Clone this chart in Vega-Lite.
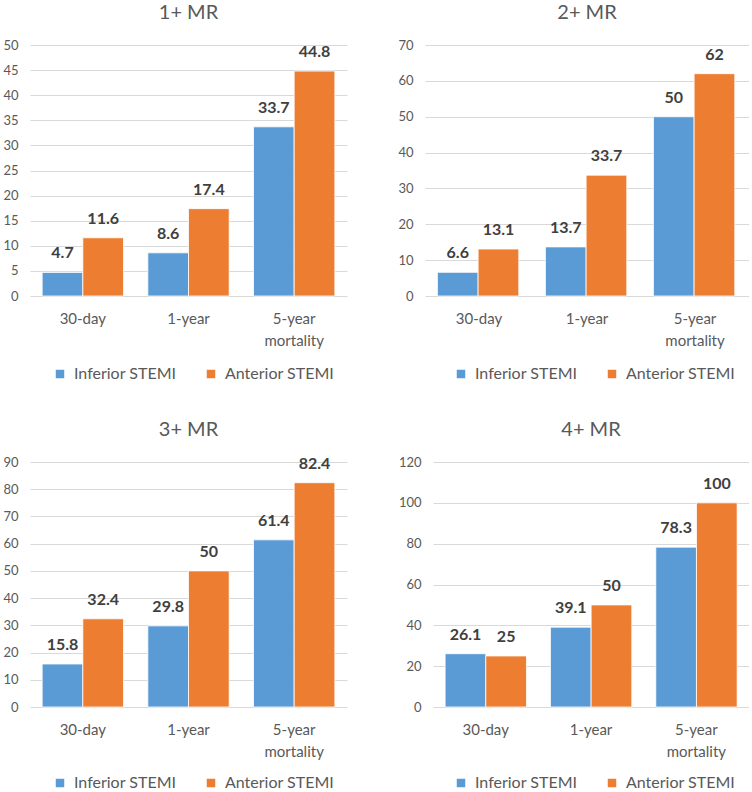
{
  "$schema": "https://vega.github.io/schema/vega-lite/v6.json",
  "padding": {"top": 3, "left": 0, "right": 0, "bottom": 0},
  "background": "white",
  "data": {"values": [
    {"panel": "1+ MR", "period": "30-day", "type": "Inferior STEMI", "value": 4.7},
    {"panel": "1+ MR", "period": "30-day", "type": "Anterior STEMI", "value": 11.6},
    {"panel": "1+ MR", "period": "1-year", "type": "Inferior STEMI", "value": 8.6},
    {"panel": "1+ MR", "period": "1-year", "type": "Anterior STEMI", "value": 17.4},
    {"panel": "1+ MR", "period": "5-year mortality", "type": "Inferior STEMI", "value": 33.7},
    {"panel": "1+ MR", "period": "5-year mortality", "type": "Anterior STEMI", "value": 44.8},
    {"panel": "2+ MR", "period": "30-day", "type": "Inferior STEMI", "value": 6.6},
    {"panel": "2+ MR", "period": "30-day", "type": "Anterior STEMI", "value": 13.1},
    {"panel": "2+ MR", "period": "1-year", "type": "Inferior STEMI", "value": 13.7},
    {"panel": "2+ MR", "period": "1-year", "type": "Anterior STEMI", "value": 33.7},
    {"panel": "2+ MR", "period": "5-year mortality", "type": "Inferior STEMI", "value": 50},
    {"panel": "2+ MR", "period": "5-year mortality", "type": "Anterior STEMI", "value": 62},
    {"panel": "3+ MR", "period": "30-day", "type": "Inferior STEMI", "value": 15.8},
    {"panel": "3+ MR", "period": "30-day", "type": "Anterior STEMI", "value": 32.4},
    {"panel": "3+ MR", "period": "1-year", "type": "Inferior STEMI", "value": 29.8},
    {"panel": "3+ MR", "period": "1-year", "type": "Anterior STEMI", "value": 50},
    {"panel": "3+ MR", "period": "5-year mortality", "type": "Inferior STEMI", "value": 61.4},
    {"panel": "3+ MR", "period": "5-year mortality", "type": "Anterior STEMI", "value": 82.4},
    {"panel": "4+ MR", "period": "30-day", "type": "Inferior STEMI", "value": 26.1},
    {"panel": "4+ MR", "period": "30-day", "type": "Anterior STEMI", "value": 25},
    {"panel": "4+ MR", "period": "1-year", "type": "Inferior STEMI", "value": 39.1},
    {"panel": "4+ MR", "period": "1-year", "type": "Anterior STEMI", "value": 50},
    {"panel": "4+ MR", "period": "5-year mortality", "type": "Inferior STEMI", "value": 78.3},
    {"panel": "4+ MR", "period": "5-year mortality", "type": "Anterior STEMI", "value": 100}
  ]},
  "config": {
    "font": "Lato",
    "view": {"stroke": null},
    "axis": {"labelColor": "#595959", "labelFont": "Lato", "domain": false, "ticks": false, "title": null, "gridColor": "#d9d9d9", "gridWidth": 1},
    "axisX": {"labelAngle": 0, "labelFontSize": 15, "labelPadding": 15, "labelLineHeight": 22, "grid": false},
    "axisY": {"labelFontSize": 13, "labelPadding": 12, "grid": true},
    "title": {"font": "Lato", "fontSize": 20, "fontWeight": "normal", "color": "#595959", "anchor": "middle", "offset": 16},
    "legend": {"orient": "none", "direction": "horizontal", "title": null, "symbolType": "square", "symbolSize": 72, "labelFontSize": 16, "labelColor": "#595959", "labelFont": "Lato", "columnPadding": 26, "labelOffset": 6, "symbolStrokeWidth": 0}
  },
  "resolve": {"scale": {"color": "independent", "y": "independent"}, "legend": {"color": "independent"}},
  "spacing": 37,
  "vconcat": [
    {
      "spacing": 48,
      "resolve": {"scale": {"color": "independent", "y": "independent"}, "legend": {"color": "independent"}},
      "hconcat": [
        {
          "width": 317, "height": 251,
          "title": {"text": "1+ MR"},
          "transform": [{"filter": "datum.panel == '1+ MR'"}],
          "encoding": {
            "x": {"field": "period", "type": "nominal", "sort": ["30-day", "1-year", "5-year mortality"], "scale": {"paddingInner": 0.23, "paddingOuter": 0.115}, "axis": {"labelExpr": "datum.value == '5-year mortality' ? ['5-year', 'mortality'] : datum.value"}},
            "xOffset": {"field": "type", "sort": ["Inferior STEMI", "Anterior STEMI"]},
            "y": {"field": "value", "type": "quantitative", "scale": {"domain": [0, 50]}, "axis": {"values": [0, 5, 10, 15, 20, 25, 30, 35, 40, 45, 50], "minExtent": 30, "maxExtent": 30}}
          },
          "layer": [
            {"mark": {"type": "bar", "stroke": "white", "strokeWidth": 0.8},
             "encoding": {"color": {"field": "type", "sort": ["Inferior STEMI", "Anterior STEMI"], "scale": {"domain": ["Inferior STEMI", "Anterior STEMI"], "range": ["#5B9BD5", "#ED7D31"]}, "legend": {"legendX": 22, "legendY": 321}}}},
            {"mark": {"type": "text", "dy": -14, "baseline": "alphabetic", "fontWeight": "bold", "fontSize": 16, "color": "#404040"},
             "encoding": {"text": {"field": "value", "type": "nominal"}}}
          ]
        },
        {
          "width": 324, "height": 251,
          "title": {"text": "2+ MR"},
          "transform": [{"filter": "datum.panel == '2+ MR'"}],
          "encoding": {
            "x": {"field": "period", "type": "nominal", "sort": ["30-day", "1-year", "5-year mortality"], "scale": {"paddingInner": 0.23, "paddingOuter": 0.115}, "axis": {"labelExpr": "datum.value == '5-year mortality' ? ['5-year', 'mortality'] : datum.value"}},
            "xOffset": {"field": "type", "sort": ["Inferior STEMI", "Anterior STEMI"]},
            "y": {"field": "value", "type": "quantitative", "scale": {"domain": [0, 70]}, "axis": {"values": [0, 10, 20, 30, 40, 50, 60, 70], "minExtent": 30, "maxExtent": 30}}
          },
          "layer": [
            {"mark": {"type": "bar", "stroke": "white", "strokeWidth": 0.8},
             "encoding": {"color": {"field": "type", "sort": ["Inferior STEMI", "Anterior STEMI"], "scale": {"domain": ["Inferior STEMI", "Anterior STEMI"], "range": ["#5B9BD5", "#ED7D31"]}, "legend": {"legendX": 28, "legendY": 321}}}},
            {"mark": {"type": "text", "dy": -14, "baseline": "alphabetic", "fontWeight": "bold", "fontSize": 16, "color": "#404040"},
             "encoding": {"text": {"field": "value", "type": "nominal"}}}
          ]
        }
      ]
    },
    {
      "spacing": 48,
      "resolve": {"scale": {"color": "independent", "y": "independent"}, "legend": {"color": "independent"}},
      "hconcat": [
        {
          "width": 317, "height": 245,
          "title": {"text": "3+ MR"},
          "transform": [{"filter": "datum.panel == '3+ MR'"}],
          "encoding": {
            "x": {"field": "period", "type": "nominal", "sort": ["30-day", "1-year", "5-year mortality"], "scale": {"paddingInner": 0.23, "paddingOuter": 0.115}, "axis": {"labelExpr": "datum.value == '5-year mortality' ? ['5-year', 'mortality'] : datum.value"}},
            "xOffset": {"field": "type", "sort": ["Inferior STEMI", "Anterior STEMI"]},
            "y": {"field": "value", "type": "quantitative", "scale": {"domain": [0, 90]}, "axis": {"values": [0, 10, 20, 30, 40, 50, 60, 70, 80, 90], "minExtent": 30, "maxExtent": 30}}
          },
          "layer": [
            {"mark": {"type": "bar", "stroke": "white", "strokeWidth": 0.8},
             "encoding": {"color": {"field": "type", "sort": ["Inferior STEMI", "Anterior STEMI"], "scale": {"domain": ["Inferior STEMI", "Anterior STEMI"], "range": ["#5B9BD5", "#ED7D31"]}, "legend": {"legendX": 22, "legendY": 313}}}},
            {"mark": {"type": "text", "dy": -14, "baseline": "alphabetic", "fontWeight": "bold", "fontSize": 16, "color": "#404040"},
             "encoding": {"text": {"field": "value", "type": "nominal"}}}
          ]
        },
        {
          "width": 316, "height": 245,
          "title": {"text": "4+ MR"},
          "transform": [{"filter": "datum.panel == '4+ MR'"}],
          "encoding": {
            "x": {"field": "period", "type": "nominal", "sort": ["30-day", "1-year", "5-year mortality"], "scale": {"paddingInner": 0.23, "paddingOuter": 0.115}, "axis": {"labelExpr": "datum.value == '5-year mortality' ? ['5-year', 'mortality'] : datum.value"}},
            "xOffset": {"field": "type", "sort": ["Inferior STEMI", "Anterior STEMI"]},
            "y": {"field": "value", "type": "quantitative", "scale": {"domain": [0, 120]}, "axis": {"values": [0, 20, 40, 60, 80, 100, 120], "minExtent": 38, "maxExtent": 38}}
          },
          "layer": [
            {"mark": {"type": "bar", "stroke": "white", "strokeWidth": 0.8},
             "encoding": {"color": {"field": "type", "sort": ["Inferior STEMI", "Anterior STEMI"], "scale": {"domain": ["Inferior STEMI", "Anterior STEMI"], "range": ["#5B9BD5", "#ED7D31"]}, "legend": {"legendX": 20, "legendY": 313}}}},
            {"mark": {"type": "text", "dy": -14, "baseline": "alphabetic", "fontWeight": "bold", "fontSize": 16, "color": "#404040"},
             "encoding": {"text": {"field": "value", "type": "nominal"}}}
          ]
        }
      ]
    }
  ]
}
